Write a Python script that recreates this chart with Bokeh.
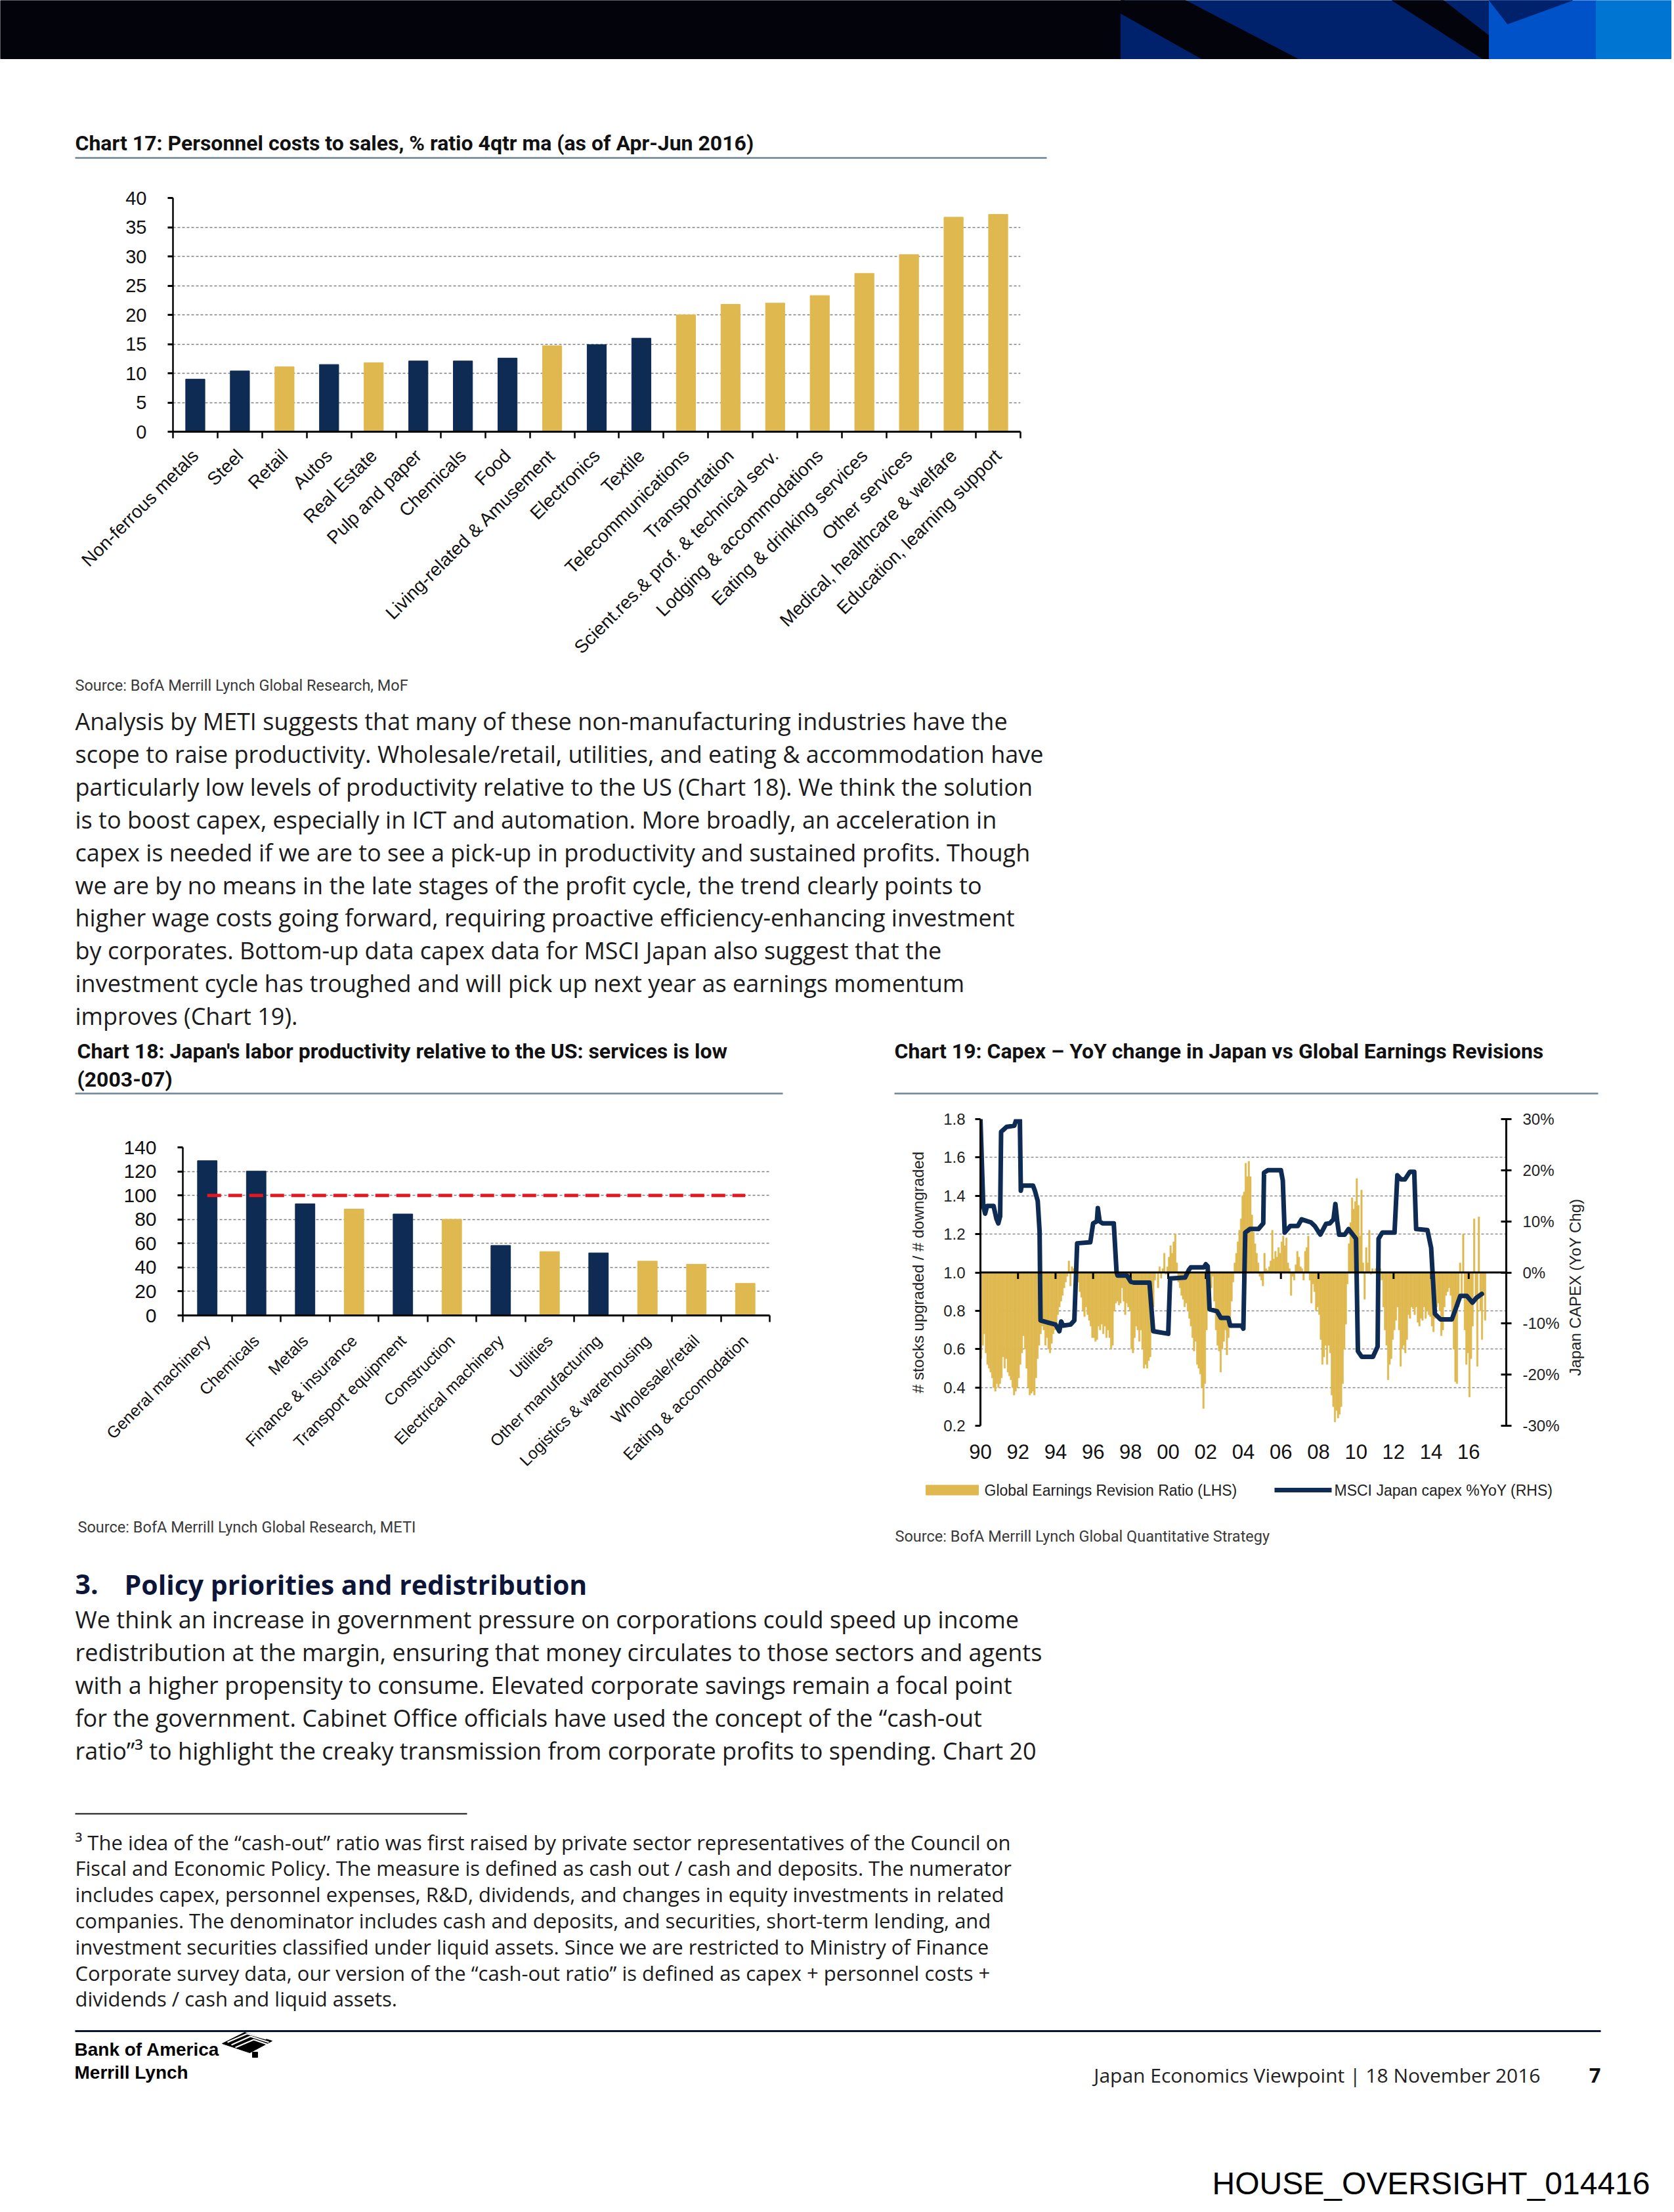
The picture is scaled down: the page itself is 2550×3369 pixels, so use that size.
import math
from bokeh.plotting import figure
from bokeh.models import (Range1d, FixedTicker, LinearAxis, PrintfTickFormatter,
                          ColumnDataSource, Span)
from bokeh.layouts import column, row
from bokeh.core.properties import value
from bokeh.embed import file_html
from bokeh.resources import INLINE

# ---------------------------------------------------------------- data
c17_sectors = ["Non-ferrous metals", "Steel", "Retail", "Autos", "Real Estate", "Pulp and paper",
               "Chemicals", "Food", "Living-related & Amusement", "Electronics", "Textile",
               "Telecommunications", "Transportation", "Scient.res.& prof. & technical serv.",
               "Lodging & accommodations", "Eating & drinking services", "Other services",
               "Medical, healthcare & welfare", "Education, learning support"]
c17_values = [9.0, 10.4, 11.1, 11.5, 11.8, 12.1, 12.1, 12.6, 14.7, 14.9, 16.0,
              20.0, 21.8, 22.0, 23.3, 27.1, 30.3, 36.7, 37.2]
c17_manufacturing = [True, True, False, True, False, True, True, True, False, True, True,
                     False, False, False, False, False, False, False, False]
c17_yticks = [0, 5, 10, 15, 20, 25, 30, 35, 40]

c18_sectors = ["General machinery", "Chemicals", "Metals", "Finance & insurance",
               "Transport equipment", "Construction", "Electrical machinery", "Utilities",
               "Other manufacturing", "Logistics & warehousing", "Wholesale/retail",
               "Eating & accomodation"]
c18_values = [128.9, 120.2, 93.0, 88.6, 84.5, 80.1, 58.3, 53.2, 52.1, 45.2, 42.6, 26.7]
c18_manufacturing = [True, True, True, False, True, False, True, False, True, False, False, False]
c18_us_level = 100
c18_yticks = [0, 20, 40, 60, 80, 100, 120, 140]

# Chart 19: monthly global earnings revision ratio, Jan 1990 onwards
rev_start_year = 1990
rev_ratio = [
    0.55, 0.62, 0.68, 0.58, 0.52, 0.50, 0.48, 0.45, 0.40, 0.38, 0.42, 0.40,  # 1990
    0.42, 0.45, 0.56, 0.50, 0.55, 0.48, 0.46, 0.44, 0.40, 0.36, 0.38, 0.40,  # 1991
    0.45, 0.52, 0.58, 0.67, 0.60, 0.50, 0.40, 0.36, 0.37, 0.38, 0.36, 0.45,  # 1992
    0.55, 0.62, 0.68, 0.72, 0.70, 0.62, 0.66, 0.60, 0.58, 0.63, 0.68, 0.70,  # 1993
    0.72, 0.78, 0.82, 0.85, 0.88, 0.92, 0.95, 0.98, 1.06, 0.93, 1.03, 1.02,  # 1994
    0.98, 0.96, 0.95, 0.90, 0.87, 0.80, 0.77, 0.82, 0.78, 0.75, 0.72, 0.66,  # 1995
    0.66, 0.64, 0.65, 0.72, 0.70, 0.73, 0.68, 0.72, 0.66, 0.70, 0.66, 0.60,  # 1996
    0.62, 0.80, 0.84, 0.85, 0.83, 0.84, 0.92, 0.85, 0.78, 0.84, 0.82, 0.80,  # 1997
    0.60, 0.58, 0.66, 0.72, 0.70, 0.64, 0.70, 0.60, 0.50, 0.52, 0.50, 0.54,  # 1998
    0.56, 0.70, 0.82, 0.96, 1.00, 0.92, 1.03, 0.97, 1.02, 1.10, 0.99, 1.03,  # 1999
    1.08, 1.14, 1.10, 1.16, 1.20, 1.05, 0.95, 0.92, 0.88, 0.86, 0.82, 0.84,  # 2000
    0.80, 0.76, 0.72, 0.66, 0.59, 0.64, 0.52, 0.50, 0.47, 0.40, 0.29, 0.42,  # 2001
    0.70, 0.82, 0.88, 0.92, 0.98, 0.85, 0.70, 0.62, 0.59, 0.48, 0.60, 0.64,  # 2002
    0.70, 0.57, 0.66, 0.72, 0.85, 0.95, 1.05, 1.10, 1.16, 1.22, 1.28, 1.40,  # 2003
    1.42, 1.57, 1.50, 1.58, 1.50, 1.30, 1.21, 1.15, 1.10, 1.05, 0.98, 0.96,  # 2004
    0.93, 1.10, 1.02, 1.01, 1.03, 1.06, 1.22, 1.07, 1.11, 1.08, 1.13, 1.10,  # 2005
    1.16, 1.19, 1.14, 1.18, 1.05, 1.02, 0.88, 0.98, 0.96, 1.04, 1.11, 1.08,  # 2006
    1.03, 1.02, 0.96, 1.11, 1.13, 1.19, 0.96, 0.84, 0.94, 0.90, 0.80, 0.82,  # 2007
    0.78, 0.65, 0.52, 0.56, 0.62, 0.52, 0.62, 0.58, 0.36, 0.30, 0.22, 0.28,  # 2008
    0.24, 0.26, 0.30, 0.42, 0.60, 0.73, 0.94, 1.15, 1.26, 1.39, 1.33, 1.37,  # 2009
    1.49, 1.35, 1.19, 1.43, 1.05, 0.86, 1.13, 1.05, 1.22, 0.99, 1.02, 1.00,  # 2010
    1.02, 1.03, 0.98, 1.02, 0.96, 0.82, 0.70, 0.62, 0.44, 0.52, 0.55, 0.65,  # 2011
    0.70, 0.75, 0.82, 0.70, 0.51, 0.60, 0.62, 0.58, 0.65, 0.78, 0.76, 0.82,  # 2012
    0.81, 0.78, 0.82, 0.74, 0.72, 0.76, 0.75, 0.82, 0.76, 0.80, 0.78, 0.77,  # 2013
    0.72, 0.69, 0.76, 0.82, 0.84, 0.80, 0.67, 0.70, 0.82, 0.88, 0.90, 0.92,  # 2014
    0.88, 0.75, 0.60, 0.43, 0.42, 0.82, 1.05, 0.88, 1.20, 0.70, 0.52, 0.58,  # 2015
    0.35, 0.55, 0.72, 1.28, 0.85, 0.51, 1.29, 0.80, 0.65, 0.88, 0.75,        # 2016
]
capex_t = [1990.0, 1990.15, 1990.25, 1990.35, 1990.7, 1990.85, 1990.95, 1991.05, 1991.1,
           1991.4, 1991.8, 1991.9, 1992.1, 1992.15, 1992.2, 1992.8, 1992.9, 1993.05, 1993.15,
           1993.2, 1993.6, 1994.0, 1994.2, 1994.3, 1994.4, 1994.8, 1995.0, 1995.15, 1995.85,
           1996.0, 1996.2, 1996.25, 1996.35, 1996.5, 1997.1, 1997.25, 1997.3, 1997.8, 1998.0,
           1998.2, 1999.0, 1999.2, 2000.0, 2000.1, 2000.9, 2001.1, 2001.2, 2001.9, 2002.0,
           2002.1, 2002.2, 2002.6, 2002.8, 2003.2, 2003.3, 2003.9, 2004.0, 2004.1, 2004.35,
           2004.8, 2005.06, 2005.1, 2005.3, 2006.0, 2006.1, 2006.2, 2006.5, 2006.9, 2007.1,
           2007.6, 2007.8, 2008.1, 2008.4, 2008.6, 2008.8, 2008.9, 2009.0, 2009.1, 2009.4,
           2009.6, 2010.0, 2010.1, 2010.3, 2010.9, 2011.15, 2011.2, 2011.4, 2012.05, 2012.2,
           2012.4, 2012.6, 2012.87, 2013.1, 2013.2, 2013.8, 2014.0, 2014.2, 2014.5, 2015.1,
           2015.3, 2015.55, 2015.9, 2016.2, 2016.4, 2016.7]
capex_pct = [30, 13, 11.5, 13, 13, 10.5, 9.6, 11, 27.5,
             28.5, 28.7, 29.8, 29.8, 16, 17, 17, 16, 14, 8,
             -9.4, -9.8, -10.2, -11.5, -9.6, -10.4, -10.2, -9.4, 5.7, 5.9,
             9.6, 10, 12.6, 10, 9.6, 9.6, 0, -0.6, -0.6, -1.8,
             -2, -2, -11.5, -12, -1.2, -1, 0.5, 1, 1, 1.6,
             1.2, -7.2, -7.6, -8.9, -8.9, -10.4, -10.4, -11, 7.8, 8.5,
             8.5, 9.6, 19.5, 20, 20, 18, 7.8, 9.1, 9.1, 10.4,
             9.8, 9.1, 7.4, 9.5, 9.6, 10.4, 13.4, 10, 7.4, 7.4,
             8.5, 6.6, -15.4, -16.5, -16.5, -14.5, 6.6, 7.8, 7.8, 19,
             18.2, 18.2, 19.7, 19.7, 8.5, 8.3, 4.8, -8.1, -9.2, -9.2,
             -7.2, -4.6, -4.6, -5.9, -5, -4.2]
c19_year_ticks = [1990, 1992, 1994, 1996, 1998, 2000, 2002, 2004, 2006, 2008, 2010, 2012, 2014, 2016]
c19_year_labels = ["90", "92", "94", "96", "98", "00", "02", "04", "06", "08", "10", "12", "14", "16"]
c19_lhs_ticks = [0.2, 0.4, 0.6, 0.8, 1.0, 1.2, 1.4, 1.6, 1.8]
c19_rhs_ticks = [-30, -20, -10, 0, 10, 20, 30]
c19_series_names = ["Global Earnings Revision Ratio (LHS)", "MSCI Japan capex %YoY (RHS)"]
c19_lhs_title = "# stocks upgraded / # downgraded"
c19_rhs_title = "Japan CAPEX (YoY Chg)"

para1 = [
    "Analysis by METI suggests that many of these non-manufacturing industries have the",
    "scope to raise productivity. Wholesale/retail, utilities, and eating & accommodation have",
    "particularly low levels of productivity relative to the US (Chart 18). We think the solution",
    "is to boost capex, especially in ICT and automation. More broadly, an acceleration in",
    "capex is needed if we are to see a pick-up in productivity and sustained profits. Though",
    "we are by no means in the late stages of the profit cycle, the trend clearly points to",
    "higher wage costs going forward, requiring proactive efficiency-enhancing investment",
    "by corporates. Bottom-up data capex data for MSCI Japan also suggest that the",
    "investment cycle has troughed and will pick up next year as earnings momentum",
    "improves (Chart 19).",
]
para2 = [
    "We think an increase in government pressure on corporations could speed up income",
    "redistribution at the margin, ensuring that money circulates to those sectors and agents",
    "with a higher propensity to consume. Elevated corporate savings remain a focal point",
    "for the government. Cabinet Office officials have used the concept of the \u201ccash-out",
    "ratio\u201d\u00b3 to highlight the creaky transmission from corporate profits to spending. Chart 20",
]
footnote = [
    "\u00b3 The idea of the \u201ccash-out\u201d ratio was first raised by private sector representatives of the Council on",
    "Fiscal and Economic Policy. The measure is defined as cash out / cash and deposits. The numerator",
    "includes capex, personnel expenses, R&D, dividends, and changes in equity investments in related",
    "companies. The denominator includes cash and deposits, and securities, short-term lending, and",
    "investment securities classified under liquid assets. Since we are restricted to Ministry of Finance",
    "Corporate survey data, our version of the \u201ccash-out ratio\u201d is defined as capex + personnel costs +",
    "dividends / cash and liquid assets.",
]

# ---------------------------------------------------------------- styles
NAVY = "#0d2b53"
GOLD = "#dfb94f"
RULE = "#6c8596"
W = 2550
BODY = "Open Sans"
TITLE = "Roboto"
SANS = "Liberation Sans"


def no_align(p):
    if "frame_align" in p.properties():
        p.frame_align = False


def page_fig(top, bottom, left=0, right=W):
    p = figure(width=right - left, height=bottom - top, x_range=Range1d(left, right),
               y_range=Range1d(bottom, top), x_axis_type=None, y_axis_type=None,
               output_backend="svg", toolbar_location=None, min_border=0)
    p.outline_line_color = None
    p.background_fill_color = "white"
    p.border_fill_color = "white"
    no_align(p)
    return p


def add_text(p, x, y, s, size, font=BODY, color="#1b1b1b", bold=False, align="left", angle=0):
    p.text(x=[x], y=[y], text=[s], text_font=value(font), text_font_size=f"{size}px",
           text_color=color, text_font_style="bold" if bold else "normal",
           text_align=align, text_baseline="middle", angle=angle)


def hline(p, x0, x1, y, color, width):
    p.segment(x0=[x0], x1=[x1], y0=[y], y1=[y], line_color=color, line_width=width)


def bar_chart(names, vals, manu, yticks, width, height, bl, br, bt, bb, bar_w,
              lab_size, tick_size, lab_standoff):
    n = len(names)
    pos = list(range(1, n + 1))
    src = ColumnDataSource(dict(x=pos, top=vals, name=names,
                                color=[NAVY if m else GOLD for m in manu]))
    p = figure(width=width, height=height, x_range=Range1d(0.5, n + 0.5),
               y_range=Range1d(yticks[0], yticks[-1]), output_backend="svg",
               toolbar_location=None, min_border_left=bl, min_border_right=br,
               min_border_top=bt, min_border_bottom=bb)
    no_align(p)
    p.outline_line_color = None
    p.vbar(x="x", top="top", width=bar_w, color="color", source=src)
    p.xgrid.visible = False
    yt = FixedTicker(ticks=yticks)
    p.yaxis.ticker = yt
    p.ygrid.ticker = yt
    p.ygrid.grid_line_color = "#7f7f7f"
    p.ygrid.grid_line_dash = "4 3"
    p.ygrid.grid_line_width = 1.5
    p.yaxis.axis_line_width = 2.5
    p.yaxis.axis_line_color = "black"
    p.yaxis.major_tick_out = 8
    p.yaxis.major_tick_in = 0
    p.yaxis.major_tick_line_width = 3
    p.yaxis.minor_tick_line_color = None
    p.yaxis.major_label_text_font = SANS
    p.yaxis.major_label_text_font_size = f"{tick_size}px"
    p.yaxis.major_label_text_color = "#111111"
    p.yaxis.major_label_standoff = 32
    p.xaxis.ticker = FixedTicker(ticks=pos, minor_ticks=[i + 0.5 for i in range(n + 1)])
    p.xaxis.major_label_overrides = {i: s for i, s in zip(pos, names)}
    p.xaxis.major_tick_line_color = None
    p.xaxis.major_tick_out = 10
    p.xaxis.minor_tick_line_color = "black"
    p.xaxis.minor_tick_line_width = 2.5
    p.xaxis.minor_tick_out = 10
    p.xaxis.minor_tick_in = 0
    p.xaxis.axis_line_width = 3
    p.xaxis.axis_line_color = "black"
    p.xaxis.major_label_orientation = math.pi / 4
    p.xaxis.major_label_text_font = SANS
    p.xaxis.major_label_text_font_size = f"{lab_size}px"
    p.xaxis.major_label_text_color = "#111111"
    p.xaxis.major_label_standoff = lab_standoff
    return p, pos


# ---------------------------------------------------------------- segment 1 (y 0..248)
s1 = page_fig(0, 248)
s1.quad(left=[0], right=[1712], top=[0], bottom=[89], color="#03030c")
s1.quad(left=[1707], right=[2268], top=[0], bottom=[89], color="#00216b")
s1.patch([1707, 1805, 1976, 1830, 1707], [0, 0, 89, 89, 20], color="#03030c")
s1.patch([2120, 2198, 2273, 2273, 2258], [0, 0, 58, 89, 89], color="#03030c")
s1.quad(left=[2268], right=[2431], top=[0], bottom=[89], color="#0052c9")
s1.patch([2268, 2395, 2296], [0, 0, 36], color="#00216b")
s1.quad(left=[2431], right=[2545], top=[0], bottom=[89], color="#0075d1")
add_text(s1, 114, 217, "Chart 17: Personnel costs to sales, % ratio 4qtr ma (as of Apr-Jun 2016)",
         32, TITLE, "#111111", bold=True)
hline(s1, 114, 1594, 240, RULE, 2.5)

# ---------------------------------------------------------------- chart 17 (y 248..1028)
p17, pos17 = bar_chart(c17_sectors, c17_values, c17_manufacturing, c17_yticks,
                       W, 780, 263, 996, 53, 371, 0.43, 28, 29, 22)

# ---------------------------------------------------------------- segment 3 (y 1028..1680)
s3 = page_fig(1028, 1680)
add_text(s3, 114, 1043, "Source: BofA Merrill Lynch Global Research, MoF", 23.5, TITLE, "#3a3a3a")
for i, line in enumerate(para1):
    add_text(s3, 114, 1098 + i * 49.9, line, 36, BODY, "#1b1b1b")
add_text(s3, 117, 1600, "Chart 18: Japan's labor productivity relative to the US: services is low",
         32, TITLE, "#111111", bold=True)
add_text(s3, 117, 1643, "(2003-07)", 32, TITLE, "#111111", bold=True)
add_text(s3, 1362, 1600, "Chart 19: Capex \u2013 YoY change in Japan vs Global Earnings Revisions",
         32, TITLE, "#111111", bold=True)
hline(s3, 114, 1192, 1665, RULE, 2.5)
hline(s3, 1362, 2434, 1665, RULE, 2.5)

# ---------------------------------------------------------------- chart 18 (y 1680..2250, x 0..1330)
p18, pos18 = bar_chart(c18_sectors, c18_values, c18_manufacturing, c18_yticks,
                       1330, 570, 278, 158, 67, 227, 0.40, 25, 30, 24)
p18.line(x=pos18, y=[c18_us_level] * len(pos18), line_color="#e5171f", line_width=5,
         line_dash="21 11")

# ---------------------------------------------------------------- chart 19 (y 1680..2250, x 1330..2386)
p19 = figure(width=1056, height=570, x_range=Range1d(1990, 2018), y_range=Range1d(0.2, 1.8),
             output_backend="svg", toolbar_location=None, min_border_left=163,
             min_border_right=92, min_border_top=24, min_border_bottom=79)
no_align(p19)
p19.outline_line_color = None
p19.extra_y_ranges = {"capex": Range1d(-30, 30)}
rev_t = [rev_start_year + (i + 0.5) / 12 for i in range(len(rev_ratio))]
bars = p19.vbar(x=rev_t, bottom=1.0, top=rev_ratio, width=1 / 12, fill_color=GOLD,
                line_color=GOLD, line_width=0.6)
p19.add_layout(Span(location=1.0, dimension="width", line_color="black", line_width=3))
p19.segment(x0=c19_year_ticks, x1=c19_year_ticks, y0=[1.0] * len(c19_year_ticks),
            y1=[0.966] * len(c19_year_ticks), line_color="black", line_width=3)
capex_line = p19.line(capex_t, capex_pct, y_range_name="capex", line_color=NAVY,
                      line_width=7, line_join="round", line_cap="round")
p19.xgrid.visible = False
lt = FixedTicker(ticks=c19_lhs_ticks)
p19.yaxis.ticker = lt
p19.ygrid.ticker = lt
p19.ygrid.grid_line_color = "#8c8c8c"
p19.ygrid.grid_line_dash = "4 3"
p19.ygrid.grid_line_width = 1.5
p19.yaxis.formatter = PrintfTickFormatter(format="%.1f")
for ax in p19.yaxis:
    ax.axis_line_width = 3
    ax.axis_line_color = "black"
    ax.major_tick_out = 8
    ax.major_tick_in = 0
    ax.major_tick_line_width = 3
    ax.minor_tick_line_color = None
    ax.major_label_text_font = SANS
    ax.major_label_text_font_size = "24px"
    ax.major_label_text_color = "#222222"
    ax.major_label_standoff = 15
    ax.axis_label = c19_lhs_title
    ax.axis_label_text_font = SANS
    ax.axis_label_text_font_size = "24px"
    ax.axis_label_text_font_style = "normal"
    ax.axis_label_text_color = "#222222"
    ax.axis_label_standoff = 22
rax = LinearAxis(y_range_name="capex", ticker=FixedTicker(ticks=c19_rhs_ticks),
                 formatter=PrintfTickFormatter(format="%d%%"))
rax.axis_line_width = 3
rax.major_tick_out = 8
rax.major_tick_in = 8
rax.major_tick_line_width = 3
rax.minor_tick_line_color = None
rax.major_label_text_font = SANS
rax.major_label_text_font_size = "24px"
rax.major_label_text_color = "#222222"
rax.major_label_standoff = 17
p19.add_layout(rax, "right")
p19.xaxis.ticker = FixedTicker(ticks=c19_year_ticks)
p19.xaxis.major_label_overrides = {y: s for y, s in zip(c19_year_ticks, c19_year_labels)}
p19.xaxis.axis_line_color = None
p19.xaxis.major_tick_line_color = None
p19.xaxis.minor_tick_line_color = None
p19.xaxis.major_tick_out = 0
p19.xaxis.major_label_standoff = 28
p19.xaxis.major_label_text_font = SANS
p19.xaxis.major_label_text_font_size = "31px"
p19.xaxis.major_label_text_color = "#111111"

# right-hand axis title strip (x 2386..2550)
s19r = page_fig(1680, 2250, 2386, W)
add_text(s19r, 2399, 1960, c19_rhs_title, 24, SANS, "#222222", align="center", angle=math.pi / 2)

# ---------------------------------------------------------------- segment 5 (y 2250..3360)
s5 = page_fig(2250, 3360)
# chart 19 legend
s5.rect(x=[1450], y=[2269], width=80, height=15, color=GOLD)
add_text(s5, 1499, 2269, c19_series_names[0], 23, SANS, "#222222")
s5.segment(x0=[1941], x1=[2028], y0=[2269], y1=[2269], line_color=NAVY, line_width=7)
add_text(s5, 2032, 2269, c19_series_names[1], 23, SANS, "#222222")
add_text(s5, 118, 2325, "Source: BofA Merrill Lynch Global Research, METI", 23.5, TITLE, "#3a3a3a")
add_text(s5, 1363, 2339, "Source: BofA Merrill Lynch Global Quantitative Strategy", 23.5, TITLE, "#3a3a3a")
add_text(s5, 114, 2412, "3.", 41, BODY, "#0d1638", bold=True)
add_text(s5, 189, 2412, "Policy priorities and redistribution", 41, BODY, "#0d1638", bold=True)
for i, line in enumerate(para2):
    add_text(s5, 114, 2466 + i * 49.9, line, 36, BODY, "#1b1b1b")
hline(s5, 114, 711, 2762, "#111111", 2)
for i, line in enumerate(footnote):
    add_text(s5, 114, 2805 + i * 39.8, line, 31, BODY, "#1b1b1b")
hline(s5, 114, 2438, 3093, "#0b1233", 3)
add_text(s5, 113, 3121, "Bank of America", 28, SANS, "black", bold=True)
add_text(s5, 113, 3156, "Merrill Lynch", 28, SANS, "black", bold=True)
s5.patch([338, 372, 414, 380], [3112, 3095, 3108, 3126], color="black")
s5.multi_line(xs=[[346, 376, 405], [352, 381, 409], [358, 386, 412]],
              ys=[[3110, 3097, 3105], [3114, 3101, 3110], [3118, 3106, 3115]],
              line_color="white", line_width=2)
s5.quad(left=[384], right=[392], top=[3125], bottom=[3133], color="black")
add_text(s5, 2346, 3160, "Japan Economics Viewpoint | 18 November 2016", 30, BODY, "#222222", align="right")
add_text(s5, 2438, 3160, "7", 31, BODY, "#111111", bold=True, align="right")
add_text(s5, 2513, 3325, "HOUSE_OVERSIGHT_014416", 48, SANS, "black", align="right")

layout = column(s1, p17, s3, row(p18, p19, s19r), s5)
open("out.html", "w").write(file_html(layout, INLINE))
